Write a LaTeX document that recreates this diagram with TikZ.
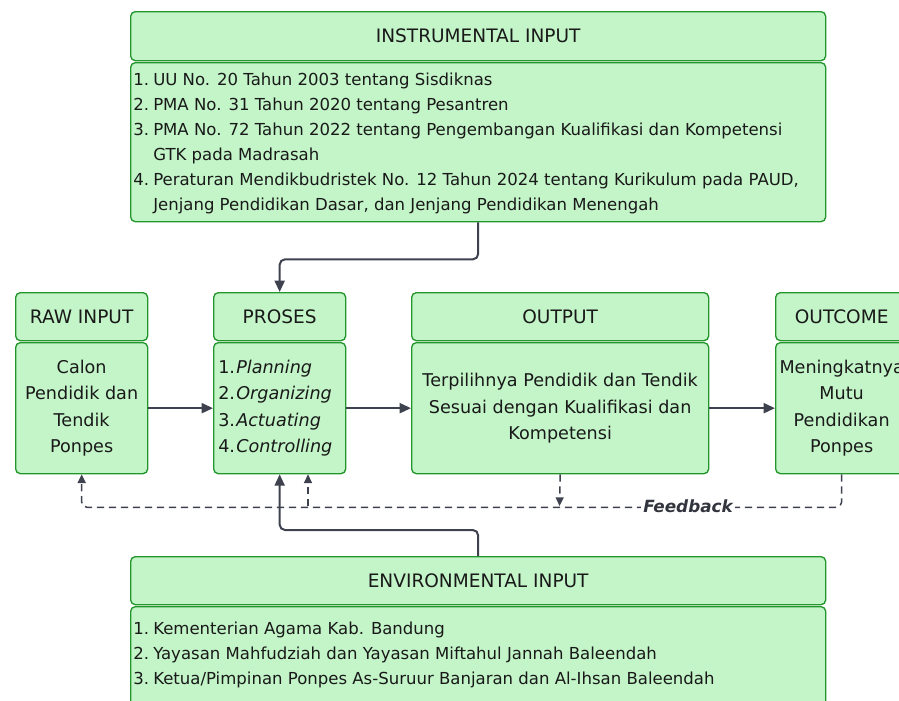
\documentclass[tikz,border=0pt]{standalone}
\usepackage{fontspec}
\setmainfont{DejaVu Sans}
\usetikzlibrary{arrows.meta}
\definecolor{boxfill}{RGB}{195,245,200}
\definecolor{boxline}{RGB}{34,150,44}
\definecolor{arrowc}{RGB}{62,66,78}
\definecolor{txt}{RGB}{25,25,25}
\tikzset{
  greenbox/.style={draw=boxline, fill=boxfill, line width=1pt, rounded corners=3.5pt, anchor=north west, inner sep=0pt},
  hdrtext/.style={font=\fontsize{13.9}{15}\selectfont, text=txt},
  bodytext/.style={font=\fontsize{13.2}{19.9}\selectfont, text=txt},
  listtext/.style={font=\fontsize{12.4}{18.75}\selectfont, text=txt, align=left, anchor=west, inner sep=0pt},
  arr/.style={draw=arrowc, line width=1.5pt, -{Triangle[length=8.5pt,width=7.5pt]}, rounded corners=4pt},
  darr/.style={draw=arrowc, line width=1.1pt, dash pattern=on 5.5pt off 3.5pt, -{Triangle[length=6.5pt,width=6pt]}, rounded corners=4pt},
}
\newcommand{\nb}[1]{\makebox[15pt][l]{#1}}
\newcommand{\nbp}[1]{\makebox[13.5pt][l]{#1}}
\begin{document}
\begin{tikzpicture}[x=0.75pt,y=-0.75pt]
\useasboundingbox (0,0) rectangle (899,700);
\clip (0,0) rectangle (899,700);
% Instrumental input
\node[greenbox, minimum width=521.25pt, minimum height=36.75pt] (instH) at (130,11) {};
\node[hdrtext] (instHt) at (instH.center) {INSTRUMENTAL INPUT};
\node[greenbox, minimum width=521.25pt, minimum height=119.25pt] (instB) at (130,62) {};
\node[listtext] (instBt) at (133,143.5) {\nb{1.}UU No. 20 Tahun 2003 tentang Sisdiknas\\
\nb{2.}PMA No. 31 Tahun 2020 tentang Pesantren\\
\nb{3.}PMA No. 72 Tahun 2022 tentang Pengembangan Kualifikasi dan Kompetensi\\
\nb{}GTK pada Madrasah\\
\nb{4.}Peraturan Mendikbudristek No. 12 Tahun 2024 tentang Kurikulum pada PAUD,\\
\nb{}Jenjang Pendidikan Dasar, dan Jenjang Pendidikan Menengah};
% Raw input
\node[greenbox, minimum width=99pt, minimum height=36pt] (rawH) at (15,292) {};
\node[hdrtext] (rawHt) at (rawH.center) {RAW INPUT};
\node[greenbox, minimum width=99pt, minimum height=98.25pt] (rawB) at (15,342) {};
\node[bodytext, align=center] (rawBt) at (rawB.center) {Calon\\Pendidik dan\\Tendik\\Ponpes};
% Proses
\node[greenbox, minimum width=99pt, minimum height=36pt] (proH) at (213,292) {};
\node[hdrtext] (proHt) at (proH.center) {PROSES};
\node[greenbox, minimum width=99pt, minimum height=98.25pt] (proB) at (213,342) {};
\node[bodytext, align=left, anchor=west, inner sep=0pt] (proBt) at (218,408) {\nbp{1.}\textit{Planning}\\\nbp{2.}\textit{Organizing}\\\nbp{3.}\textit{Actuating}\\\nbp{4.}\textit{Controlling}};
% Output
\node[greenbox, minimum width=222.75pt, minimum height=36pt] (outH) at (411,292) {};
\node[hdrtext] (outHt) at (outH.center) {OUTPUT};
\node[greenbox, minimum width=222.75pt, minimum height=98.25pt] (outB) at (411,342) {};
\node[bodytext, align=center] (outBt) at (outB.center) {Terpilihnya Pendidik dan Tendik\\Sesuai dengan Kualifikasi dan\\Kompetensi};
% Outcome
\node[greenbox, minimum width=99pt, minimum height=36pt] (ocH) at (775,292) {};
\node[hdrtext] (ocHt) at (ocH.center) {OUTCOME};
\node[greenbox, minimum width=99pt, minimum height=98.25pt] (ocB) at (775,342) {};
\node[bodytext, align=center] (ocBt) at (ocB.center) {Meningkatnya\\Mutu\\Pendidikan\\Ponpes};
% Environmental input
\node[greenbox, minimum width=521.25pt, minimum height=36pt] (envH) at (130,556) {};
\node[hdrtext] (envHt) at (envH.center) {ENVIRONMENTAL INPUT};
\node[greenbox, minimum width=521.25pt, minimum height=90pt] (envB) at (130,606) {};
\node[listtext] (envBt) at (133,655) {\nb{1.}Kementerian Agama Kab. Bandung\\
\nb{2.}Yayasan Mahfudziah dan Yayasan Miftahul Jannah Baleendah\\
\nb{3.}Ketua/Pimpinan Ponpes As-Suruur Banjaran dan Al-Ihsan Baleendah};
% Connectors
\draw[arr] (rawB.east) -- (proB.west);
\draw[arr] (proB.east) -- (outB.west);
\draw[arr] (outB.east) -- (ocB.west);
\draw[arr] (instB.south) -- ++(0,37) -| (proH.north);
\draw[arr] (envH.north) -- ++(0,-26) -| (proB.south);
% Feedback
\coordinate (fbP) at (308,506);
\coordinate (fbO) at (559.5,506);
\draw[darr] (ocB.south) -- ++(0,33) -| (rawB.south);
\draw[darr] (fbP) -- (fbP |- proB.south);
\draw[darr] (outB.south) -- (fbO);
\node[fill=white, inner sep=1.5pt, font=\fontsize{12.6}{14}\selectfont\bfseries\itshape, text=arrowc!80!black] (fb) at (688,506) {Feedback};
\end{tikzpicture}
\end{document}
